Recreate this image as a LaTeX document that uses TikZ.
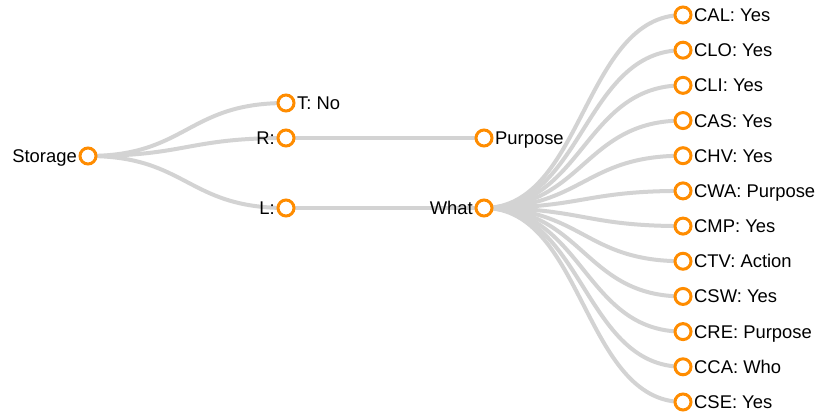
\documentclass[tikz,border=0pt]{standalone}
\usepackage{fontspec}
\setmainfont{Liberation Sans}
\usepackage{xcolor}
\definecolor{nodeorange}{RGB}{255,140,0}
\definecolor{linkgray}{RGB}{211,211,211}
\usetikzlibrary{calc, backgrounds}
\tikzstyle{vertex} = [
    circle,
    draw=nodeorange,
    fill=white,
    line width=3pt,
    minimum size=16pt,
    inner sep=0pt,
]
\tikzstyle{link} = [
    draw=linkgray,
    line width=4pt,
]
\tikzstyle{tag} = [
    inner sep=0pt,
    font=\fontsize{18.4}{21}\selectfont,
]
\tikzstyle{lefttag} = [tag, anchor=base east]
\tikzstyle{righttag} = [tag, anchor=base west]
\newcommand{\treelink}[2]{
    \draw [link] let \p1=(#1.center), \p2=(#2.center), \n1={(\x1+\x2)/2} in
        (#1.center) .. controls (\n1,\y1) and (\n1,\y2) .. (#2.center);
}

\begin{document}
\begin{tikzpicture}[x=1pt, y=-1pt]
    \useasboundingbox (0,0) rectangle (817,417);

    % nodes
    \node (storage) at (88,156) [vertex] {};
    \node (t) at (286,103) [vertex] {};
    \node (r) at (286,138) [vertex] {};
    \node (l) at (286,208) [vertex] {};
    \node (purpose) at (484,138) [vertex] {};
    \node (what) at (484,208) [vertex] {};
    \foreach \txt [count=\i from 0] in {CAL: Yes, CLO: Yes, CLI: Yes, CAS: Yes, CHV: Yes, CWA: Purpose, CMP: Yes, CTV: Action, CSW: Yes, CRE: Purpose, CCA: Who, CSE: Yes} {
        \node (leaf\i) at (683, 15+35.18*\i) [vertex] {};
        \node (leaf\i-tag) at ([xshift=11pt, yshift=-6.5pt]leaf\i.center) [righttag] {\txt};
    }

    % labels
    \node (storage-tag) at ([xshift=-11pt, yshift=-6.5pt]storage.center) [lefttag] {Storage};
    \node (r-tag) at ([xshift=-11pt, yshift=-6.5pt]r.center) [lefttag] {R:};
    \node (l-tag) at ([xshift=-11pt, yshift=-6.5pt]l.center) [lefttag] {L:};
    \node (what-tag) at ([xshift=-11pt, yshift=-6.5pt]what.center) [lefttag] {What};
    \node (t-tag) at ([xshift=11pt, yshift=-6.5pt]t.center) [righttag] {T: No};
    \node (purpose-tag) at ([xshift=11pt, yshift=-6.5pt]purpose.center) [righttag] {Purpose};

    % links
    \begin{scope}[on background layer]
        \foreach \child in {t, r, l} {
            \treelink{storage}{\child}
        }
        \treelink{r}{purpose}
        \treelink{l}{what}
        \foreach \i in {0,...,11} {
            \treelink{what}{leaf\i}
        }
    \end{scope}
\end{tikzpicture}
\end{document}
